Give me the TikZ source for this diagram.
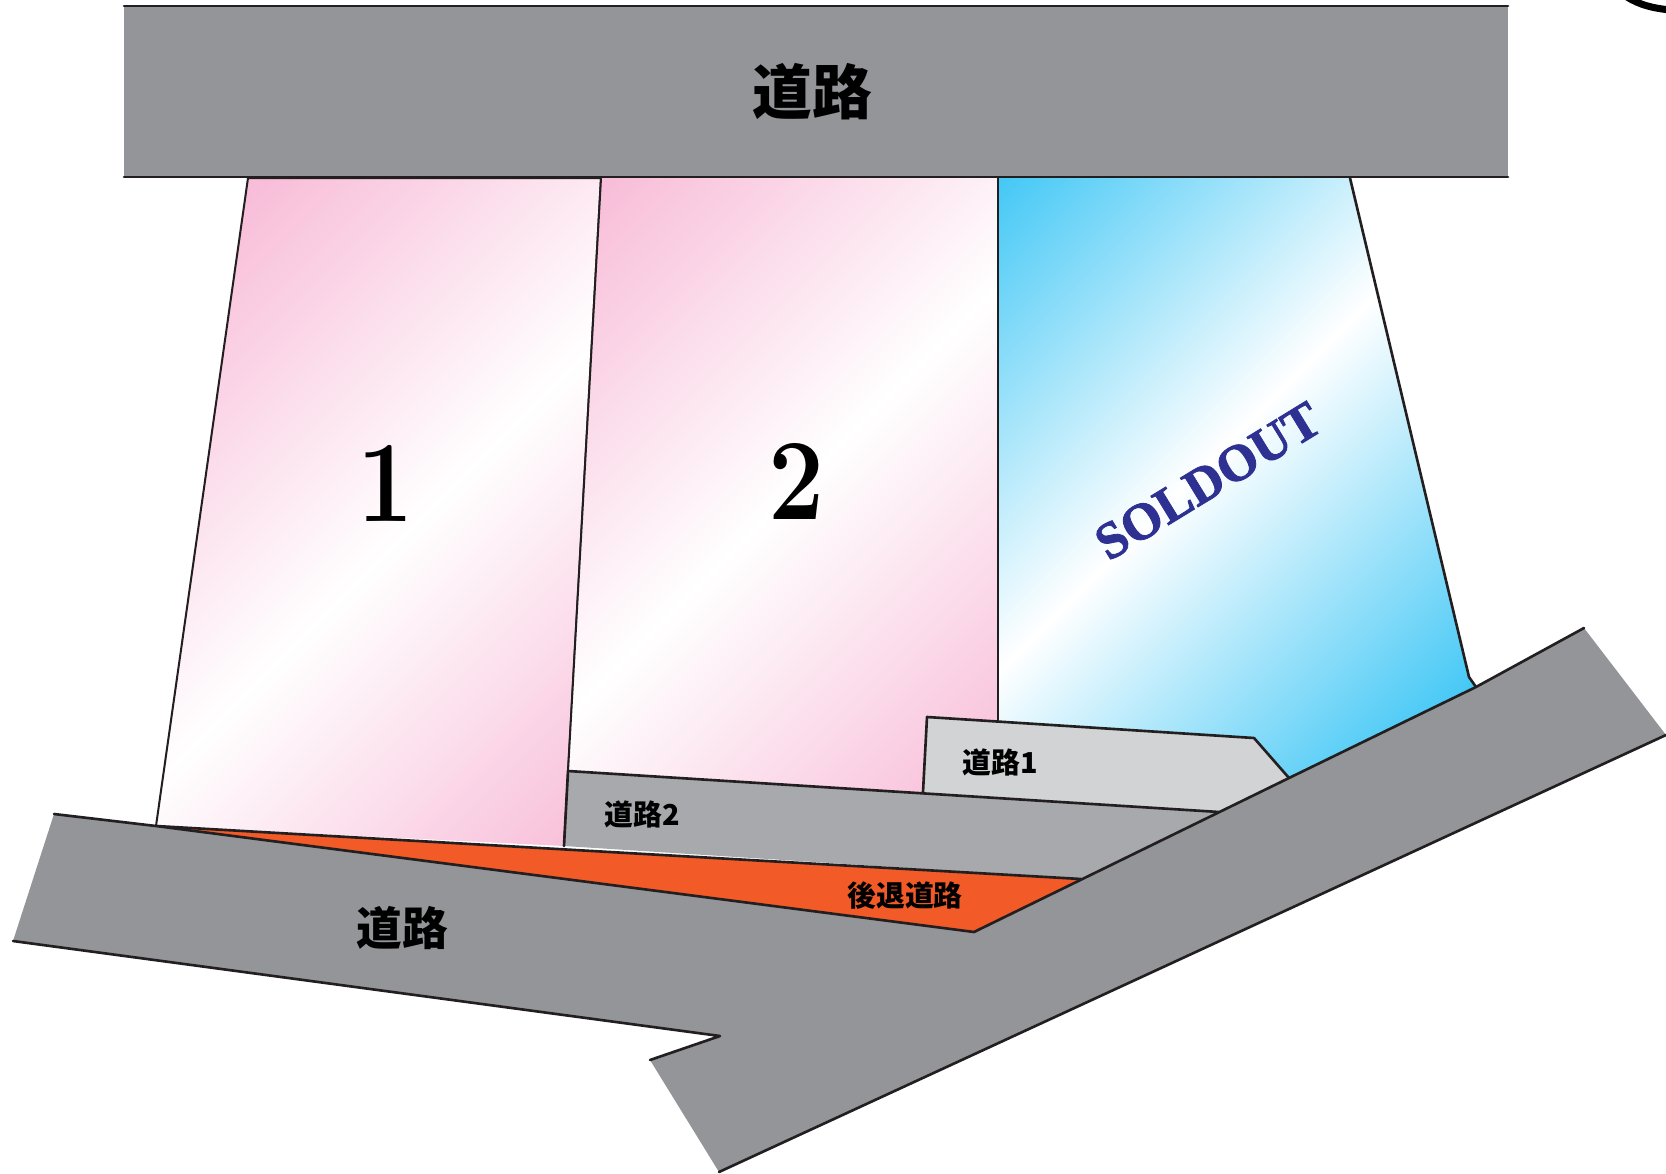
\documentclass[tikz,border=0pt]{standalone}
\usepackage{fontspec}
\setmainfont{Liberation Serif}
\newfontfamily\cjk{Noto Sans CJK JP}
\newfontfamily\heavyserif[FakeBold=1.6]{Liberation Serif Bold}
\newcommand{\didone}{\usefont{TU}{lmr}{bx}{n}}
\definecolor{roadgray}{HTML}{939598}
\definecolor{roadtwo}{HTML}{A7A9AC}
\definecolor{roadone}{HTML}{D1D3D4}
\definecolor{setback}{HTML}{F25A27}
\definecolor{inkline}{HTML}{231F20}
\definecolor{soldblue}{HTML}{2E3192}
\pgfdeclarehorizontalshading{pinkband}{100bp}{rgb(0bp)=(0.973,0.745,0.851); rgb(32.5bp)=(0.973,0.745,0.851); rgb(50bp)=(1,1,1); rgb(67.5bp)=(0.973,0.745,0.851); rgb(100bp)=(0.973,0.745,0.851)}
\pgfdeclarehorizontalshading{blueband}{100bp}{rgb(0bp)=(0.267,0.784,0.961); rgb(32.5bp)=(0.267,0.784,0.961); rgb(50bp)=(1,1,1); rgb(67.5bp)=(0.267,0.784,0.961); rgb(100bp)=(0.267,0.784,0.961)}
\tikzset{
  edgeline/.style={draw=inkline,line width=1.5pt,line join=round,line cap=round},
  lotline/.style={draw=inkline,line width=1.15pt,line join=round},
  roadlabel/.style={font=\cjk\bfseries,text=black,inner sep=0pt},
  lotnumber/.style={font=\didone\fontsize{66}{66}\selectfont,text=black,inner sep=0pt,xscale=0.86},
}
\begin{document}
\begin{tikzpicture}[x=0.02cm,y=-0.02cm]
\useasboundingbox (0,0) rectangle (1666,1173);
\clip (0,0) rectangle (1666,1173);
% lots
\begin{scope}
  \clip (248,178) -- (601,178) -- (564,846) -- (156,826) -- cycle;
  \shade[shading=pinkband,shading angle=-45] (-55,-7) rectangle (945,993);
\end{scope}
\draw[lotline] (156,826) -- (248,178) -- (601,178) -- (564,846);
\begin{scope}
  \clip (601,178) -- (998,178) -- (998,800) -- (568,771) -- cycle;
  \shade[shading=pinkband,shading angle=-45] (285,0) rectangle (1285,1000);
\end{scope}
\draw[lotline] (601,178) -- (568,771);
\begin{scope}
  \clip (998,178) -- (1350,178) -- (1469,677) -- (1476,687) -- (1289,778) -- (1254,738) -- (998,722) -- cycle;
  \shade[shading=blueband,shading angle=-45] (700,-30) rectangle (1700,970);
\end{scope}
\draw[lotline] (998,178) -- (998,722);
\draw[edgeline] (1350,178) -- (1469,677) -- (1476,687);
% small roads
\fill[roadone] (927,717) -- (1254,738) -- (1289,778) -- (1219,812) -- (923,792) -- cycle;
\draw[edgeline] (923,792) -- (927,717) -- (1254,738) -- (1289,778);
\fill[roadtwo] (568,771) -- (1219,812) -- (1081,879) -- (564,846) -- cycle;
\draw[edgeline] (564,846) -- (568,771) -- (1219,812);
% set-back strip
\fill[setback] (156,826) -- (1081,879) -- (974,932) -- cycle;
\draw[edgeline] (156,826) -- (1081,879);
% lower road
\fill[roadgray] (54,814) -- (156,826) -- (974,932) -- (1289,778) -- (1476,687) -- (1584,628) -- (1666,735) -- (719,1172) -- (650,1060) -- (720,1036) -- (13,941) -- cycle;
\draw[edgeline] (54,814) -- (156,826) -- (974,932) -- (1289,778) -- (1476,687) -- (1584,628);
\draw[edgeline] (13,941) -- (720,1036) -- (650,1060);
\draw[edgeline] (719,1172) -- (1666,735);
% top road
\fill[roadgray] (124,6) rectangle (1508,177);
\draw[edgeline] (124,6) -- (1508,6);
\draw[edgeline] (124,177) -- (1508,177);
% arc at the corner
\draw[black,line width=4pt] (1627,-3) .. controls (1640,5) and (1652,8) .. (1670,10);
% labels
\node[roadlabel,font=\cjk\bfseries\fontsize{34}{34}\selectfont] (toproad) at (812,92) {道路};
\node[roadlabel,font=\cjk\bfseries\fontsize{26}{26}\selectfont] (lowroad) at (402,928) {道路};
\node[roadlabel,font=\cjk\bfseries\fontsize{16.4}{16.4}\selectfont] (roadonelabel) at (1000,762) {道路1};
\node[roadlabel,font=\cjk\bfseries\fontsize{16.4}{16.4}\selectfont] (roadtwolabel) at (642,814) {道路2};
\node[roadlabel,font=\cjk\bfseries\fontsize{16.4}{16.4}\selectfont] (setbacklabel) at (905,896) {後退道路};
\node[lotnumber] (lotone) at (386,483) {1};
\node[lotnumber] (lottwo) at (797,481) {2};
\node[inner sep=0pt,rotate=31.5,text=soldblue,font=\heavyserif\fontsize{29.5}{29.5}\selectfont] (sold) at (1208,481) {SOLDOUT};
\end{tikzpicture}
\end{document}
